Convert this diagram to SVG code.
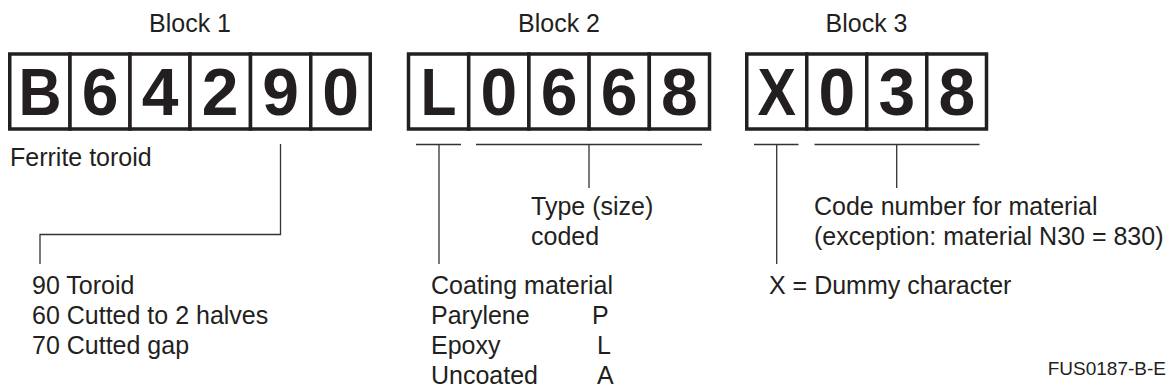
<svg xmlns="http://www.w3.org/2000/svg" width="1173" height="391" viewBox="0 0 1173 391">
<style>
.cell{fill:#fff;stroke:#231f20;stroke-width:3.5}
.ch{font-family:"Liberation Sans",Arial,sans-serif;font-weight:bold;font-size:66px;fill:#231f20;text-anchor:middle}
.t{font-family:"Liberation Sans",Arial,sans-serif;font-size:25px;fill:#231f20}
.c{fill:none;stroke:#333;stroke-width:1.3}
</style>
<rect width="1173" height="391" fill="#fff"/>
<g id="block1">
<text class="t" x="190" y="32" text-anchor="middle">Block 1</text>
<rect class="cell" x="9.75" y="54" width="60.25" height="75"/>
<rect class="cell" x="70" y="54" width="60" height="75"/>
<rect class="cell" x="130" y="54" width="60" height="75"/>
<rect class="cell" x="190" y="54" width="60.5" height="75"/>
<rect class="cell" x="250.5" y="54" width="60.25" height="75"/>
<rect class="cell" x="310.75" y="54" width="59.5" height="75"/>
<text class="ch" x="40" y="115" textLength="43" lengthAdjust="spacingAndGlyphs">B</text>
<text class="ch" x="100" y="115">6</text>
<text class="ch" x="160" y="115">4</text>
<text class="ch" x="220" y="115">2</text>
<text class="ch" x="280.5" y="115">9</text>
<text class="ch" x="340.5" y="115">0</text>
<text class="t" x="10" y="166">Ferrite toroid</text>
</g>
<g id="block2">
<text class="t" x="559" y="32" text-anchor="middle">Block 2</text>
<rect class="cell" x="408.5" y="54" width="60.2" height="75"/>
<rect class="cell" x="468.7" y="54" width="60.2" height="75"/>
<rect class="cell" x="528.9" y="54" width="60.2" height="75"/>
<rect class="cell" x="589.1" y="54" width="60.2" height="75"/>
<rect class="cell" x="649.3" y="54" width="60.2" height="75"/>
<text class="ch" x="438.6" y="115" textLength="36" lengthAdjust="spacingAndGlyphs">L</text>
<text class="ch" x="498.8" y="115">0</text>
<text class="ch" x="559" y="115">6</text>
<text class="ch" x="619.2" y="115">6</text>
<text class="ch" x="679.4" y="115">8</text>
</g>
<g id="block3">
<text class="t" x="866.5" y="32" text-anchor="middle">Block 3</text>
<rect class="cell" x="746.75" y="54" width="60" height="75"/>
<rect class="cell" x="806.75" y="54" width="60" height="75"/>
<rect class="cell" x="866.75" y="54" width="60" height="75"/>
<rect class="cell" x="926.75" y="54" width="59.75" height="75"/>
<text class="ch" x="776.75" y="115" textLength="38.5" lengthAdjust="spacingAndGlyphs">X</text>
<text class="ch" x="836.75" y="115">0</text>
<text class="ch" x="896.75" y="115">3</text>
<text class="ch" x="956.75" y="115">8</text>
</g>
<g id="connectors">
<path class="c" d="M280.5 144V234.5H40V264"/>
<path class="c" d="M416 144.5H461M439 144.5V264"/>
<path class="c" d="M476 144.5H702M589 144.5V188"/>
<path class="c" d="M754 144.5H798.5M776.7 144.5V264"/>
<path class="c" d="M814.5 144.5H979.5M896.7 144.5V188"/>
</g>
<g id="label-shape">
<text class="t" x="32" y="294">90 Toroid</text>
<text class="t" x="32" y="324">60 Cutted to 2 halves</text>
<text class="t" x="32" y="354">70 Cutted gap</text>
</g>
<g id="label-type">
<text class="t" x="531" y="215">Type (size)</text>
<text class="t" x="531" y="245">coded</text>
</g>
<g id="label-coating">
<text class="t" x="431" y="294">Coating material</text>
<text class="t" x="431" y="324">Parylene</text>
<text class="t" x="592" y="324">P</text>
<text class="t" x="431" y="354">Epoxy</text>
<text class="t" x="597" y="354">L</text>
<text class="t" x="431" y="384">Uncoated</text>
<text class="t" x="597" y="384">A</text>
</g>
<g id="label-material">
<text class="t" x="814" y="215">Code number for material</text>
<text class="t" x="814" y="245">(exception: material N30 = 830)</text>
</g>
<g id="label-dummy">
<text class="t" x="769" y="294">X = Dummy character</text>
</g>
<text x="1166" y="375" font-family="'Liberation Sans',Arial,sans-serif" font-size="19" fill="#231f20" text-anchor="end">FUS0187-B-E</text>
</svg>
